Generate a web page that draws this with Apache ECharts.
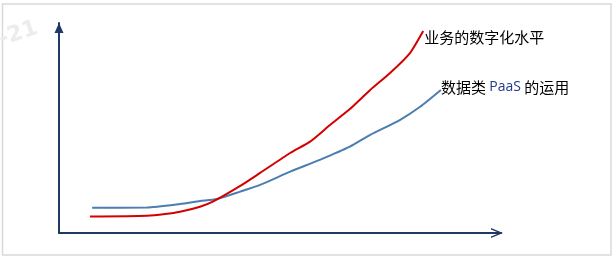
<!DOCTYPE html>
<html>
<head>
<meta charset="utf-8">
<script src="https://cdn.jsdelivr.net/npm/echarts@6/dist/echarts.min.js"></script>
<style>html,body{margin:0;padding:0;background:#fff;}#c{width:616px;height:262px;}</style>
</head>
<body>
<div id="c"></div>
<script>
// Data (x: 0-100 along the horizontal axis, y: 0-100 along the vertical axis)
const seriesNames = ['业务的数字化水平', '数据类 PaaS 的运用'];
const redX = [7.0, 19.9, 24.0, 27.4, 31.9, 34.8, 41.0, 45.5, 52.3, 56.8, 61.3, 65.8, 70.4, 74.9, 79.4, 82.4];
const redY = [7.8, 8.2, 9.0, 10.1, 12.5, 14.9, 22.4, 28.6, 38.1, 43.5, 51.4, 59.0, 68.1, 76.2, 85.7, 96.2];
const blueX = [7.5, 19.9, 27.4, 31.9, 35.7, 41.0, 45.5, 52.3, 59.0, 65.8, 70.4, 77.1, 81.7, 86.4];
const blueY = [12.0, 12.1, 13.8, 15.2, 16.2, 19.7, 22.9, 29.2, 34.8, 41.1, 46.7, 53.8, 60.1, 68.1];

const pairs = (xs, ys) => xs.map((x, i) => [x, ys[i]]);
const cjk = '"Noto Sans CJK SC", "Noto Sans", sans-serif';
const axisColor = '#1f3864';
const chevron = 'path://M0 12 L5 0 L10 12 L8.4 12 L5 3.6 L1.6 12 Z';

const chart = echarts.init(document.getElementById('c'), null, {renderer: 'canvas'});
chart.setOption({
  animation: false,
  backgroundColor: '#fff',
  grid: {left: 59, right: 115, top: 23, bottom: 29, containLabel: false},
  xAxis: {
    type: 'value', min: 0, max: 100,
    axisLine: {show: true, lineStyle: {color: axisColor, width: 2}, symbol: ['none', chevron], symbolSize: [10, 12], symbolOffset: [0, -4]},
    axisTick: {show: false}, axisLabel: {show: false}, splitLine: {show: false}
  },
  yAxis: {
    type: 'value', min: 0, max: 100,
    axisLine: {show: true, lineStyle: {color: axisColor, width: 2}, symbol: ['none', 'triangle'], symbolSize: [9, 10], symbolOffset: [0, -5]},
    axisTick: {show: false}, axisLabel: {show: false}, splitLine: {show: false}
  },
  graphic: [
    {type: 'rect', shape: {x: 2.5, y: 4, width: 608.5, height: 251}, style: {fill: 'none', stroke: '#d9d9d9', lineWidth: 1.5}, z: -1},
    {type: 'text', x: -4, y: 30, rotation: 0.33, style: {text: '-21', font: 'bold 22px "DejaVu Sans", sans-serif', fill: '#ececec'}, z: -1}
  ],
  series: [
    {
      name: seriesNames[0], type: 'line', data: pairs(redX, redY), symbol: 'none', smooth: 0.2,
      lineStyle: {color: '#d40000', width: 2}, z: 3,
      endLabel: {show: true, formatter: seriesNames[0], color: '#000', fontSize: 15, fontFamily: cjk, distance: 1, offset: [0, 6]}
    },
    {
      name: seriesNames[1], type: 'line', data: pairs(blueX, blueY), symbol: 'none', smooth: 0.2,
      lineStyle: {color: '#4a7db0', width: 2}, z: 2,
      endLabel: {show: true, formatter: '数据类 {p|PaaS} 的运用', color: '#000', fontSize: 15, fontFamily: cjk, distance: 0, offset: [0, -3],
        rich: {p: {color: '#1f3a8a', fontSize: 14, fontFamily: '"Open Sans", "Liberation Sans", sans-serif'}}}
    }
  ]
});
</script>
</body>
</html>
